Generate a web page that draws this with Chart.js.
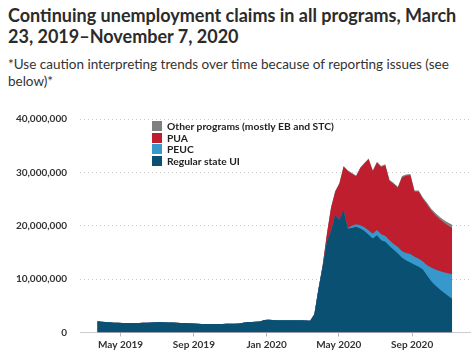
<!DOCTYPE html>
<html>
<head>
<meta charset="utf-8">
<script src="https://cdn.jsdelivr.net/npm/chart.js@4.4.0/dist/chart.umd.min.js"></script>
<style>
  body { margin: 0; width: 474px; height: 354px; background: #fff; overflow: hidden; position: relative;
         font-family: Lato, "Open Sans", sans-serif; color: #333; }
  h1 { position: absolute; left: 8px; top: 5px; margin: 0; width: 466px;
       font-size: 18px; line-height: 21px; font-weight: 700; color: #2b2b2b; }
  .note { position: absolute; left: 8px; top: 56px; width: 466px; font-size: 13.5px; line-height: 17px; color: #333; }
  #wrap { position: absolute; left: 0; top: 100px; width: 474px; height: 254px; }
  .legend { position: absolute; left: 152px; top: 121px; font-size: 10.3px; font-weight: 700; color: #222; }
  .legend div { height: 11.6px; line-height: 11.6px; white-space: nowrap; }
  .legend span { display: inline-block; width: 10px; height: 10px; margin-right: 5px; vertical-align: -1px; }
</style>
</head>
<body>
<h1>Continuing unemployment claims in all programs, March 23, 2019–November 7, 2020</h1>
<div class="note">*Use caution interpreting trends over time because of reporting issues (see below)*</div>
<div id="wrap"><canvas id="chart"></canvas></div>
<div class="legend">
  <div><span style="background:#808080"></span>Other programs (mostly EB and STC)</div>
  <div><span style="background:#be1e2d"></span>PUA</div>
  <div><span style="background:#3798cc"></span>PEUC</div>
  <div><span style="background:#0a5073"></span>Regular state UI</div>
</div>
<script>
"use strict";

/*-- data (millions), weekly, week ending Mar 23 2019 .. Nov 7 2020 --*/
const firstWeek = Date.UTC(2019, 2, 23);
const DAY = 86400000;

const regularUI = [
  2.1, 2.0, 1.95, 1.9, 1.85, 1.82, 1.8, 1.78, 1.78, 1.8,
  1.8, 1.82, 1.85, 1.88, 1.92, 1.95, 1.92, 1.88, 1.86, 1.84,
  1.8, 1.76, 1.72, 1.68, 1.64, 1.6, 1.6, 1.6, 1.6, 1.6,
  1.61, 1.62, 1.63, 1.65, 1.7, 1.85, 1.95, 1.97, 2.0, 2.05,
  2.35, 2.4, 2.35, 2.3, 2.3, 2.3, 2.3, 2.28, 2.3, 2.28,
  2.25, 2.2, 3.4, 8.2, 12.4, 17.0, 19.0, 22.0, 21.1, 23.0,
  19.5, 19.6, 19.8, 19.5, 19.0, 18.3, 17.6, 18.2, 17.3, 17.0,
  16.2, 15.5, 14.8, 14.0, 13.5, 13.1, 12.7, 12.3, 11.8, 10.7,
  9.6, 8.8, 8.1, 7.5, 6.9, 6.3
];
const peuc = [
  0, 0, 0, 0, 0, 0, 0, 0, 0, 0,
  0, 0, 0, 0, 0, 0, 0, 0, 0, 0,
  0, 0, 0, 0, 0, 0, 0, 0, 0, 0,
  0, 0, 0, 0, 0, 0, 0, 0, 0, 0,
  0, 0, 0, 0, 0, 0, 0, 0, 0, 0,
  0, 0, 0, 0, 0, 0, 0, 0, 0, 0,
  0.1, 0.4, 0.5, 0.6, 0.7, 0.8, 0.9, 1.0, 1.1, 1.1,
  1.1, 1.1, 1.2, 1.2, 1.4, 1.6, 1.5, 1.5, 1.5, 1.9,
  2.6, 3.0, 3.4, 3.8, 4.2, 4.6
];
const pua = [
  0, 0, 0, 0, 0, 0, 0, 0, 0, 0,
  0, 0, 0, 0, 0, 0, 0, 0, 0, 0,
  0, 0, 0, 0, 0, 0, 0, 0, 0, 0,
  0, 0, 0, 0, 0, 0, 0, 0, 0, 0,
  0, 0, 0, 0, 0, 0, 0, 0, 0, 0,
  0, 0, 0, 0.05, 0.2, 1.4, 4.35, 4.35, 6.75, 8.05,
  10.65, 9.75, 8.95, 10.65, 11.95, 13.35, 11.7, 12.6, 12.6, 13.2,
  11.1, 11.2, 11.1, 13.85, 14.45, 14.75, 12.15, 12.55, 11.7, 11.35,
  10.6, 10.15, 9.7, 9.3, 8.95, 8.7
];
const otherPrograms = [
  0, 0, 0, 0, 0, 0, 0, 0, 0, 0,
  0, 0, 0, 0, 0, 0, 0, 0, 0, 0,
  0, 0, 0, 0, 0, 0, 0, 0, 0, 0,
  0, 0, 0, 0, 0, 0, 0, 0, 0, 0,
  0, 0, 0, 0, 0, 0, 0, 0, 0, 0,
  0, 0, 0, 0.05, 0.1, 0.1, 0.15, 0.15, 0.15, 0.15,
  0.15, 0.15, 0.15, 0.15, 0.15, 0.15, 0.2, 0.2, 0.2, 0.2,
  0.2, 0.2, 0.2, 0.25, 0.25, 0.25, 0.25, 0.25, 0.3, 0.35,
  0.4, 0.45, 0.5, 0.5, 0.55, 0.6
];

const xTicks = [Date.UTC(2019, 4, 1), Date.UTC(2019, 8, 1), Date.UTC(2020, 0, 1), Date.UTC(2020, 4, 1), Date.UTC(2020, 8, 1)];
const xTickLabels = ["May 2019", "Sep 2019", "Jan 2020", "May 2020", "Sep 2020"];
const yTicks = [0, 10000000, 20000000, 30000000, 40000000];

const weeks = regularUI.map(function (v, i) { return firstWeek + i * 7 * DAY; });

function series(values) {
  return weeks.map(function (t, i) { return { x: t, y: values[i] * 1e6 }; });
}

function area(label, values, color) {
  return {
    label: label,
    data: series(values),
    backgroundColor: color,
    borderColor: color,
    borderWidth: 0,
    pointRadius: 0,
    tension: 0,
    fill: 'origin'
  };
}

new Chart(document.getElementById("chart").getContext("2d"), {
  type: 'line',
  data: {
    datasets: [
      area("Regular state UI", regularUI, '#0a5073'),
      area("PEUC", peuc, '#3798cc'),
      area("PUA", pua, '#be1e2d'),
      area("Other programs (mostly EB and STC)", otherPrograms, '#808080')
    ]
  },
  options: {
    responsive: true,
    maintainAspectRatio: false,
    animation: false,
    layout: { padding: { top: 12, right: 4, left: 0, bottom: 0 } },
    plugins: { legend: { display: false }, tooltip: { enabled: false } },
    scales: {
      x: {
        type: 'linear',
        min: Date.UTC(2019, 1, 22),
        max: Date.UTC(2020, 11, 7),
        afterBuildTicks: function (scale) {
          scale.ticks = xTicks.map(function (v) { return { value: v }; });
        },
        afterFit: function (scale) { scale.height = 21.5; },
        grid: { display: true, drawOnChartArea: false, drawTicks: true, tickLength: 4, color: '#bbb' },
        border: { display: true, color: '#ccc', width: 1 },
        ticks: {
          autoSkip: false, maxRotation: 0, padding: 2, color: '#333',
          font: { family: 'Lato', size: 10, weight: 'bold' },
          callback: function (v) { return xTickLabels[xTicks.indexOf(v)]; }
        }
      },
      y: {
        stacked: true,
        min: 0,
        max: 40000000,
        afterBuildTicks: function (scale) {
          scale.ticks = yTicks.map(function (v) { return { value: v }; });
        },
        afterFit: function (scale) { scale.width = 80; },
        grid: { color: '#c8c8c8', drawTicks: false, lineWidth: 1 },
        border: { display: false, dash: [1, 3] },
        ticks: {
          padding: 13, color: '#333',
          font: { family: 'Lato', size: 10, weight: 'bold' },
          callback: function (v) { return v.toLocaleString('en-US'); }
        }
      }
    }
  }
});
</script>
</body>
</html>
